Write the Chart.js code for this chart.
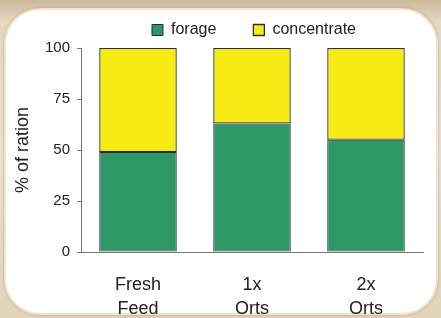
<!DOCTYPE html>
<html><head><meta charset="utf-8">
<script src="https://cdn.jsdelivr.net/npm/chart.js@4/dist/chart.umd.min.js"></script>
<style>
html,body{margin:0;padding:0;}
body{width:441px;height:318px;overflow:hidden;background:linear-gradient(180deg,#cdb99a 0%,#e6d9c2 7%,#ece2d0 50%,#e2d3ba 100%);position:relative;font-family:"Liberation Sans",Arial,sans-serif;}
#panel{position:absolute;left:4px;top:8px;width:430px;height:303px;background:#fff;border-radius:36px;border:2px solid #efe4cf;box-shadow:0 0 3px rgba(150,120,80,0.55);}
#wrap{position:absolute;left:0;top:0;width:441px;height:318px;}
</style></head>
<body>
<div id="panel"></div>
<div id="wrap"><canvas id="c" width="441" height="318"></canvas></div>
<script>
const categories = [["Fresh","Feed"],["1x","Orts"],["2x","Orts"]];
const forage = [49, 63, 55];
const concentrate = [51, 37, 45];
const yTicks = [0, 25, 50, 75, 100];

const centerLegend = {
  id:'centerLegend',
  afterLayout(chart){
    const lg = chart.legend, a = chart.chartArea;
    if(lg){ lg.left = a.left + 2; lg.right = a.right + 2; lg.width = a.right - a.left; }
  }
};

new Chart(document.getElementById('c'), {
  type: 'bar',
  data: {
    labels: categories,
    datasets: [
      {label:'forage', data: forage, backgroundColor:'#2e9967', borderColor:'#2a2f2a', borderWidth:1, borderSkipped:false},
      {label:'concentrate', data: concentrate, backgroundColor:'#f6ec14', borderColor:'#2e2e24', borderWidth:1.3, borderSkipped:false}
    ]
  },
  plugins:[centerLegend],
  options: {
    responsive:false, animation:false,
    layout:{padding:{left:5,right:18,top:-15,bottom:0}},
    datasets:{bar:{categoryPercentage:1.0, barPercentage:0.68}},
    plugins:{
      legend:{position:'top', labels:{boxWidth:11, boxHeight:11, font:{family:'Liberation Sans', size:16}, color:'#222', padding:37}},
      tooltip:{enabled:false}
    },
    scales:{
      x:{stacked:true,
        grid:{display:false, drawTicks:false},
        border:{display:true, color:'#777', width:1},
        ticks:{font:{family:'Liberation Sans', size:18, lineHeight:'24px'}, color:'#222', padding:21, maxRotation:0, autoSkip:false},
        afterFit:(s)=>{s.height = 66;}
      },
      y:{stacked:true, min:0, max:100,
        afterBuildTicks:(s)=>{s.ticks = yTicks.map(v=>({value:v}));},
        grid:{display:true, drawOnChartArea:false, tickLength:4, color:'#777'},
        border:{display:true, color:'#777', width:1},
        ticks:{font:{family:'Liberation Sans', size:15}, color:'#222', padding:7},
        title:{display:true, text:'% of ration', font:{family:'Liberation Sans', size:18}, color:'#222', padding:{top:7,bottom:4}},
        afterFit:(s)=>{s.width = 76;}
      }
    }
  }
});
</script>
</body></html>
